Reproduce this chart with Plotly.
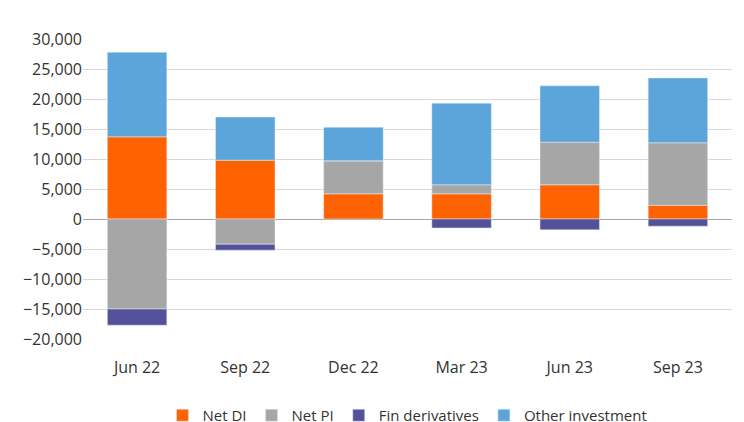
import plotly.graph_objects as go

quarters = ["Jun 22", "Sep 22", "Dec 22", "Mar 23", "Jun 23", "Sep 23"]
net_di = [13700, 9800, 4200, 4200, 5700, 2300]
net_pi = [-15000, -4200, 5500, 1500, 7100, 10400]
fin_deriv = [-2700, -1000, 0, -1500, -1800, -1200]
other_inv = [14100, 7200, 5600, 13600, 9400, 10800]

fig = go.Figure()
fig.add_trace(go.Bar(x=quarters, y=net_di, name="Net DI", marker_color="#FF6200"))
fig.add_trace(go.Bar(x=quarters, y=net_pi, name="Net PI", marker_color="#A6A6A6"))
fig.add_trace(go.Bar(x=quarters, y=fin_deriv, name="Fin derivatives", marker_color="#525199"))
fig.add_trace(go.Bar(x=quarters, y=other_inv, name="Other investment", marker_color="#5BA5DA"))

fig.update_layout(
    barmode="relative",
    bargap=0.45,
    width=744, height=422,
    margin=dict(l=75, r=20, t=31, b=91, autoexpand=False),
    plot_bgcolor="white", paper_bgcolor="white",
    font=dict(family="Open Sans, Arial", size=15, color="#333333"),
    legend=dict(orientation="h", x=0.5, xanchor="center", y=-0.2, yanchor="top",
                traceorder="normal", font=dict(size=15)),
    showlegend=True,
)
fig.update_yaxes(range=[-20000, 30000], dtick=5000, tickformat=",", showgrid=True,
                 gridcolor="#D9D9D9", zeroline=True, zerolinecolor="#A6A6A6",
                 zerolinewidth=1, ticks="", tickfont=dict(size=16))
fig.update_xaxes(showline=False, ticks="outside", ticklen=14, tickcolor="rgba(0,0,0,0)",
                 tickfont=dict(size=16))

fig.write_html("out.html")
